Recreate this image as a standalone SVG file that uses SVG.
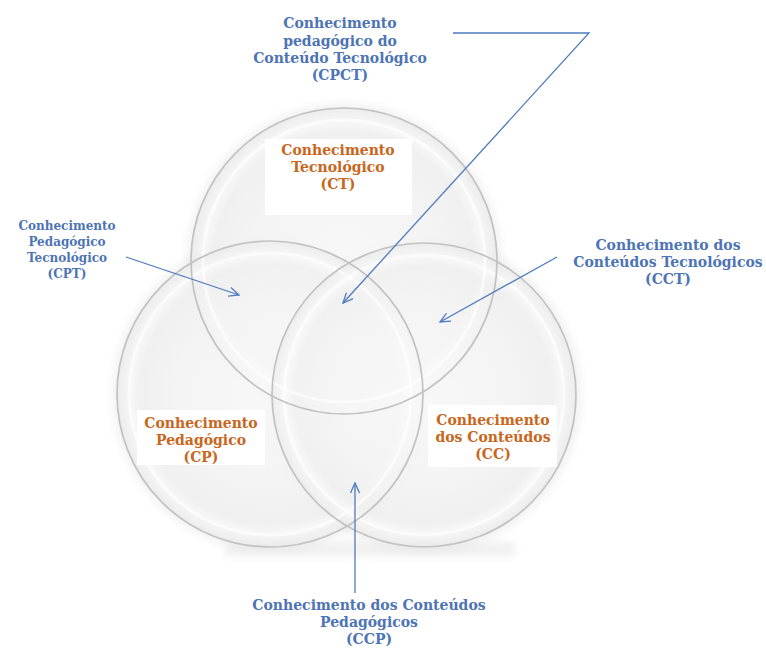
<svg xmlns="http://www.w3.org/2000/svg" width="766" height="648" viewBox="0 0 766 648">
  <style>
    .lbl { font-family: "DejaVu Serif", "Liberation Serif", serif; font-weight: bold; text-anchor: middle; }
    .blue { fill: #4d74b4; font-size: 14px; }
    .blue-s { fill: #4d74b4; font-size: 12px; }
    .orange { fill: #c9661c; font-size: 14px; }
    .rim { fill: none; stroke: #c2c2c2; stroke-width: 1.7; }
    .inner { fill: none; stroke: #ffffff; stroke-width: 3; opacity: 0.6; }
    .halo { fill: #dedede; opacity: 0.45; filter: url(#soft); }
    .body { fill: url(#glass); fill-opacity: 0.75; }
    .box { fill: #ffffff; }
    .conn { fill: none; stroke: #4f7bbd; stroke-width: 1.3; }
  </style>
  <defs>
    <filter id="soft" x="-20%" y="-20%" width="140%" height="140%">
      <feGaussianBlur stdDeviation="5"/>
    </filter>
    <filter id="band" x="-20%" y="-100%" width="140%" height="300%">
      <feGaussianBlur stdDeviation="4"/>
    </filter>
    <radialGradient id="glass" cx="50%" cy="50%" r="50%">
      <stop offset="0%" stop-color="#fbfbfb"/>
      <stop offset="60%" stop-color="#f5f5f5"/>
      <stop offset="85%" stop-color="#f0f0f0"/>
      <stop offset="91%" stop-color="#f9f9f9"/>
      <stop offset="96%" stop-color="#f1f1f1"/>
      <stop offset="100%" stop-color="#eaeaea"/>
    </radialGradient>
    <marker id="arrow" viewBox="0 0 12 10" refX="11" refY="5" markerWidth="12" markerHeight="10" markerUnits="userSpaceOnUse" orient="auto">
      <path d="M1,0.5 L11,5 L1,9.5" fill="none" stroke="#4f7bbd" stroke-width="1.3"/>
    </marker>
  </defs>

  <rect width="766" height="648" fill="#ffffff"/>

  <!-- soft shadow band under the plates -->
  <rect x="225" y="542" width="290" height="14" fill="#f0f0f0" filter="url(#band)"/>

  <!-- glass plates: halos, bodies, then all rims on top -->
  <g id="plates">
    <circle class="halo" cx="344" cy="261" r="157"/>
    <circle class="halo" cx="270" cy="394" r="157"/>
    <circle class="halo" cx="424" cy="395" r="157"/>
    <circle class="body" cx="344" cy="261" r="153"/>
    <circle class="body" cx="270" cy="394" r="153"/>
    <circle class="body" cx="424" cy="395" r="152"/>
    <circle class="inner" cx="344" cy="261" r="141"/>
    <circle class="inner" cx="270" cy="394" r="141"/>
    <circle class="inner" cx="424" cy="395" r="140"/>
  </g>

  <g id="node-ct">
    <circle class="rim" cx="344" cy="261" r="153"/>
  </g>
  <g id="node-cp">
    <circle class="rim" cx="270" cy="394" r="153"/>
  </g>
  <g id="node-cc">
    <circle class="rim" cx="424" cy="395" r="152"/>
  </g>

  <!-- label plates -->
  <g id="label-ct">
    <rect class="box" x="265" y="139" width="147" height="76"/>
    <text class="lbl orange" x="338" y="155">Conhecimento</text>
    <text class="lbl orange" x="338" y="172">Tecnológico</text>
    <text class="lbl orange" x="338" y="189">(CT)</text>
  </g>
  <g id="label-cp">
    <rect class="box" x="137" y="410" width="128" height="55"/>
    <text class="lbl orange" x="201" y="428">Conhecimento</text>
    <text class="lbl orange" x="201" y="445">Pedagógico</text>
    <text class="lbl orange" x="201" y="462">(CP)</text>
  </g>
  <g id="label-cc">
    <rect class="box" x="428" y="405" width="129" height="62"/>
    <text class="lbl orange" x="493" y="425">Conhecimento</text>
    <text class="lbl orange" x="493" y="442">dos Conteúdos</text>
    <text class="lbl orange" x="493" y="459">(CC)</text>
  </g>

  <!-- outside labels -->
  <g id="node-cpct">
    <text class="lbl blue" x="340" y="28">Conhecimento</text>
    <text class="lbl blue" x="340" y="46">pedagógico do</text>
    <text class="lbl blue" x="340" y="63">Conteúdo Tecnológico</text>
    <text class="lbl blue" x="340" y="80">(CPCT)</text>
  </g>
  <g id="node-cpt">
    <text class="lbl blue-s" x="67" y="230">Conhecimento</text>
    <text class="lbl blue-s" x="67" y="246">Pedagógico</text>
    <text class="lbl blue-s" x="67" y="262">Tecnológico</text>
    <text class="lbl blue-s" x="67" y="278">(CPT)</text>
  </g>
  <g id="node-cct">
    <text class="lbl blue" x="668" y="250">Conhecimento dos</text>
    <text class="lbl blue" x="668" y="267">Conteúdos Tecnológicos</text>
    <text class="lbl blue" x="668" y="284">(CCT)</text>
  </g>
  <g id="node-ccp">
    <text class="lbl blue" x="369" y="610">Conhecimento dos Conteúdos</text>
    <text class="lbl blue" x="369" y="627">Pedagógicos</text>
    <text class="lbl blue" x="369" y="644">(CCP)</text>
  </g>

  <!-- connectors -->
  <g id="connectors">
    <polyline class="conn" points="453,33 589,33 343,303" marker-end="url(#arrow)"/>
    <line class="conn" x1="126" y1="257" x2="239" y2="295" marker-end="url(#arrow)"/>
    <line class="conn" x1="557" y1="257" x2="440" y2="322" marker-end="url(#arrow)"/>
    <line class="conn" x1="355" y1="593" x2="355" y2="483" marker-end="url(#arrow)"/>
  </g>
</svg>
